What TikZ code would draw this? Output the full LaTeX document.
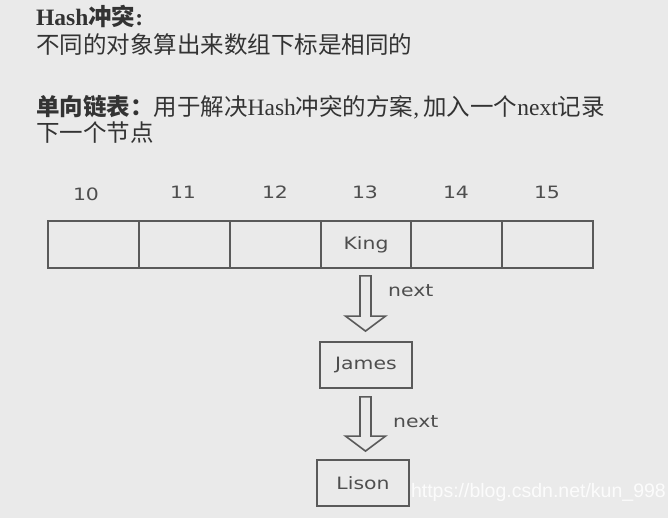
\documentclass[tikz,border=0pt]{standalone}
\usepackage{fontspec}
\setmainfont{Liberation Serif}
\newfontfamily\cjk{Noto Sans CJK SC}
\newfontfamily\diagfont[FakeStretch=1.2]{DejaVu Sans}
\newfontfamily\wmfont{Liberation Sans}
\usetikzlibrary{calc}
\newcommand\zh[1]{{\cjk #1}}
\definecolor{bg}{HTML}{EAEAEA}
\definecolor{hdrtext}{HTML}{333333}
\definecolor{dtext}{HTML}{4E4E4E}
\definecolor{dline}{HTML}{5A5A5A}
\tikzset{
  hdr/.style={anchor=base west, inner sep=0, text=hdrtext, font=\fontsize{23.5}{23.5}\selectfont},
  cell/.style={draw=dline, line width=1.8pt, minimum width=91pt, minimum height=47pt, inner sep=0, text=dtext, font=\diagfont\fontsize{17}{17}\selectfont},
  listbox/.style={draw=dline, line width=1.8pt, minimum width=92pt, minimum height=46pt, inner sep=0, text=dtext, font=\diagfont\fontsize{17}{17}\selectfont},
  idx/.style={inner sep=0, text=dtext, font=\diagfont\fontsize{17}{17}\selectfont},
  nextlbl/.style={anchor=west, inner sep=0, text=dtext, font=\diagfont\fontsize{17}{17}\selectfont},
  blockarrow/.style={draw=dline, line width=1.6pt, fill=bg, line join=miter},
  watermark/.style={anchor=east, inner sep=0, text=white, text opacity=0.85, font=\wmfont\fontsize{19.5}{19.5}\selectfont}
}
\newcommand\blockarr[2]{%
  \draw[blockarrow] let \p1=(#1), \p2=(#2) in
    (\x1-5.5pt,\y1) -- (\x1+5.5pt,\y1) -- (\x1+5.5pt,\y2+15pt) -- (\x1+20pt,\y2+15pt)
    -- (\x1,\y2) -- (\x1-20pt,\y2+15pt) -- (\x1-5.5pt,\y2+15pt) -- cycle;}
\begin{document}
\begin{tikzpicture}[x=1pt,y=-1pt]
  \fill[white] (0,0) rectangle (670,529);
  \fill[bg] (0,0) rectangle (668,518);
  \useasboundingbox (0,0) rectangle (670,529);

  % header text
  \node[hdr] (h1) at (36,26) {\bfseries Hash{\cjk\bfseries 冲突}:};
  \node[hdr] (h2) at (36,54) {\zh{不同的对象算出来数组下标是相同的}};
  \node[hdr] (h3) at (36,116) {{\cjk\bfseries 单向链表：}\zh{用于解决}Hash\zh{冲突的方案},\hspace{4pt}\zh{加入一个}next\zh{记录}};
  \node[hdr] (h4) at (36,142) {\zh{下一个节点}};

  % array cells
  \node[cell] (c10) at (93.5,244.5) {};
  \node[cell] (c11) at (184.5,244.5) {};
  \node[cell] (c12) at (275.5,244.5) {};
  \node[cell] (c13) at (366,244.5) {King};
  \node[cell] (c14) at (456.5,244.5) {};
  \node[cell] (c15) at (547.5,244.5) {};

  % indices
  \node[idx] (i10) at (86,194) {10};
  \node[idx] (i11) at (183,192) {11};
  \node[idx] (i12) at (275,192) {12};
  \node[idx] (i13) at (365,192) {13};
  \node[idx] (i14) at (456,192) {14};
  \node[idx] (i15) at (547,192) {15};

  % linked list
  \node[listbox] (james) at (366,365) {James};
  \node[listbox] (lison) at (363,483) {Lison};

  \coordinate (a1top) at ($(c13.south)+(-0.5,7)$);
  \coordinate (a1tip) at ($(a1top |- james.north)+(0,-10)$);
  \blockarr{a1top}{a1tip}
  \coordinate (a2top) at ($(james.south)+(-0.5,8)$);
  \coordinate (a2tip) at ($(a2top |- lison.north)+(0,-8)$);
  \blockarr{a2top}{a2tip}

  \node[nextlbl] (n1) at (388,291) {next};
  \node[nextlbl] (n2) at (393,422) {next};

  % watermark
  \node[watermark] (wm) at (666,492) {https://blog.csdn.net/kun\_998};
\end{tikzpicture}
\end{document}
